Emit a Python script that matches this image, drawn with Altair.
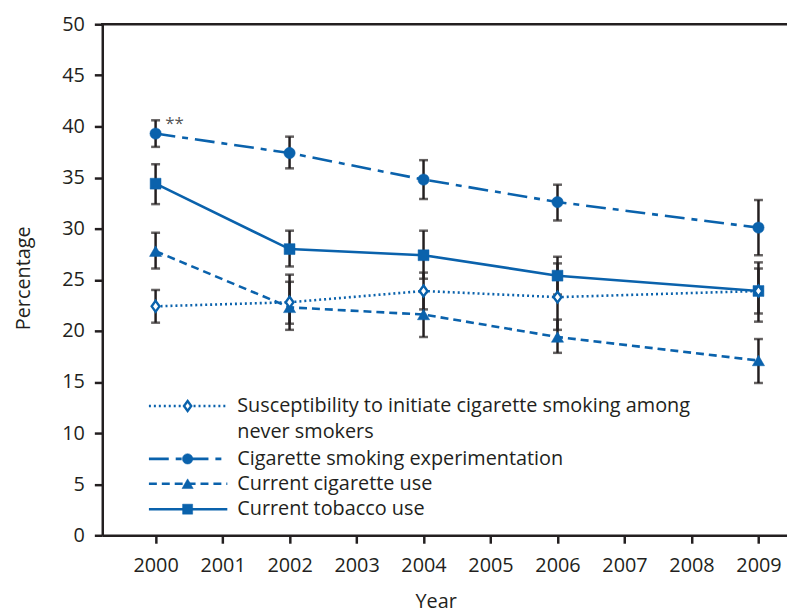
import altair as alt
import pandas as pd

# ---- data ----
years = [2000, 2002, 2004, 2006, 2009]
tick_years = [2000, 2001, 2002, 2003, 2004, 2005, 2006, 2007, 2008, 2009]
y_ticks = [0, 5, 10, 15, 20, 25, 30, 35, 40, 45, 50]

names = [
    "Susceptibility to initiate cigarette smoking among never smokers",
    "Cigarette smoking experimentation",
    "Current cigarette use",
    "Current tobacco use",
]

susc = [22.4, 22.8, 23.9, 23.3, 23.9]
susc_lo = [20.8, 20.1, 22.1, 20.1, 21.7]
susc_hi = [24.0, 25.5, 25.7, 26.6, 26.1]

exper = [39.3, 37.4, 34.8, 32.6, 30.1]
exper_lo = [38.0, 35.9, 32.9, 30.8, 27.4]
exper_hi = [40.6, 39.0, 36.7, 34.3, 32.8]

cig = [27.8, 22.3, 21.6, 19.4, 17.1]
cig_lo = [26.1, 20.7, 19.4, 17.85, 14.9]
cig_hi = [29.6, 24.8, 23.8, 21.1, 19.2]

tob = [34.4, 28.0, 27.4, 25.4, 23.9]
tob_lo = [32.4, 26.3, 25.1, 23.55, 20.9]
tob_hi = [36.3, 29.8, 29.8, 27.25, 26.7]

annot_text = ["**"]

# ---- styles ----
BLUE = "#0a62ac"
INK = "#231f20"
FONT = "Open Sans"
FS = 20
W, H = 690, 515
TOP = 14

values = [susc, exper, cig, tob]
lows = [susc_lo, exper_lo, cig_lo, tob_lo]
highs = [susc_hi, exper_hi, cig_hi, tob_hi]

frames = []
for n, v, lo, hi in zip(names, values, lows, highs):
    frames.append(pd.DataFrame({"series": n, "year": years, "value": v, "lo": lo, "hi": hi}))
df = pd.concat(frames, ignore_index=True)

xscale = alt.Scale(domain=[1999.204, 2009.426], nice=False, zero=False)
yscale = alt.Scale(domain=[0, 50], nice=False, zero=True)

x_axis = alt.Axis(
    values=tick_years, format="d", title="Year", grid=False,
    titleX=336, titleY=73, titleBaseline="alphabetic", titleAlign="center",
    labelPadding=12, labelFlush=False,
)
y_axis = alt.Axis(
    values=y_ticks, title="Percentage", grid=False,
    titleX=-79, titleY=H / 2 - 2, titleAngle=270, titleBaseline="middle", titleAlign="center",
    labelPadding=10,
)

X = alt.X("year:Q", scale=xscale, axis=x_axis)
Y = alt.Y("value:Q", scale=yscale, axis=y_axis)

styles = {
    names[0]: dict(dash=[2, 3], shape="M0,-1L0.72,0L0,1L-0.72,0Z", fill="white", size=120),
    names[1]: dict(dash=[20, 7, 6, 7], shape="circle", fill=BLUE, size=130),
    names[2]: dict(dash=[8, 5], shape="triangle-up", fill=BLUE, size=150),
    names[3]: dict(dash=None, shape="square", fill=BLUE, size=120),
}

base = alt.Chart(df)

err_rule = base.mark_rule(color=INK, strokeWidth=2.5).encode(
    x=X, y=alt.Y("lo:Q", scale=yscale, axis=y_axis), y2="hi:Q"
)
err_lo = base.mark_tick(color=INK, orient="horizontal", size=9, thickness=2.5).encode(
    x=X, y=alt.Y("lo:Q", scale=yscale, axis=y_axis)
)
err_hi = base.mark_tick(color=INK, orient="horizontal", size=9, thickness=2.5).encode(
    x=X, y=alt.Y("hi:Q", scale=yscale, axis=y_axis)
)

line_layers = []
point_layers = []
draw_order = [names[1], names[3], names[2], names[0]]
for n in draw_order:
    st = styles[n]
    sub = base.transform_filter(alt.datum.series == n)
    lkw = dict(color=BLUE, strokeWidth=2.6)
    if st["dash"]:
        lkw["strokeDash"] = st["dash"]
    line_layers.append(sub.mark_line(**lkw).encode(x=X, y=Y))
    point_layers.append(
        sub.mark_point(shape=st["shape"], filled=True, fill=st["fill"], stroke=BLUE,
                       strokeWidth=2.4 if n == names[0] else 0.5, size=st["size"], opacity=1).encode(x=X, y=Y)
    )

annot = alt.Chart(pd.DataFrame({"year": [years[0]], "value": [exper_hi[0]], "label": annot_text})).mark_text(
    font=FONT, fontSize=17, color="#555555", align="center", baseline="middle", dx=19, dy=4
).encode(x=X, y=Y, text="label:N")

# top frame line
one = pd.DataFrame({"k": [0]})
top_line = alt.Chart(one).mark_rule(color=INK, strokeWidth=2.5).encode(
    x=alt.value(-1.25), x2=alt.value(W), y=alt.value(0)
)

# ---- legend (drawn manually to reproduce the line + marker samples) ----
off = 20 - (8 + TOP)  # keep legend at the same page position as the reference
leg_rows = [386.7 + off, 440 + off, 465 + off, 490.7 + off]
leg_extra = 412.7 + off
legend_layers = []
legend_labels = [
    "Susceptibility to initiate cigarette smoking among",
    names[1], names[2], names[3],
]
for i, n in enumerate(names):
    st = styles[n]
    yy = leg_rows[i]
    rkw = dict(color=BLUE, strokeWidth=2.6)
    if st["dash"]:
        rkw["strokeDash"] = st["dash"]
    legend_layers.append(alt.Chart(one).mark_rule(**rkw).encode(
        x=alt.value(47), x2=alt.value(126), y=alt.value(yy)))
    legend_layers.append(alt.Chart(one).mark_point(
        shape=st["shape"], filled=True, fill=st["fill"], stroke=BLUE,
        strokeWidth=2.4 if i == 0 else 0.5, size=st["size"] * 0.85, opacity=1
    ).encode(x=alt.value(86), y=alt.value(yy)))
    legend_layers.append(alt.Chart(one).mark_text(
        font=FONT, fontSize=FS, color=INK, align="left", baseline="middle", text=legend_labels[i]
    ).encode(x=alt.value(136), y=alt.value(yy)))
legend_layers.append(alt.Chart(one).mark_text(
    font=FONT, fontSize=FS, color=INK, align="left", baseline="middle", text="never smokers"
).encode(x=alt.value(136), y=alt.value(leg_extra)))

chart = alt.layer(
    err_rule, err_lo, err_hi, *line_layers, *point_layers, annot, top_line, *legend_layers
).resolve_scale(x="shared", y="shared").properties(
    width=W, height=H,
    autosize=alt.AutoSizeParams(type="none"),
    padding={"left": 95, "top": TOP, "right": 0, "bottom": 80},
).configure_view(stroke=None).configure_axis(
    domainColor=INK, domainWidth=2.5, tickColor=INK, tickWidth=2.5, tickSize=8,
    labelFont=FONT, labelFontSize=FS, labelColor=INK,
    titleFont=FONT, titleFontSize=FS, titleColor=INK, titleFontWeight="normal",
)

chart.save("out.html", embed_options={"renderer": "svg", "actions": False})
